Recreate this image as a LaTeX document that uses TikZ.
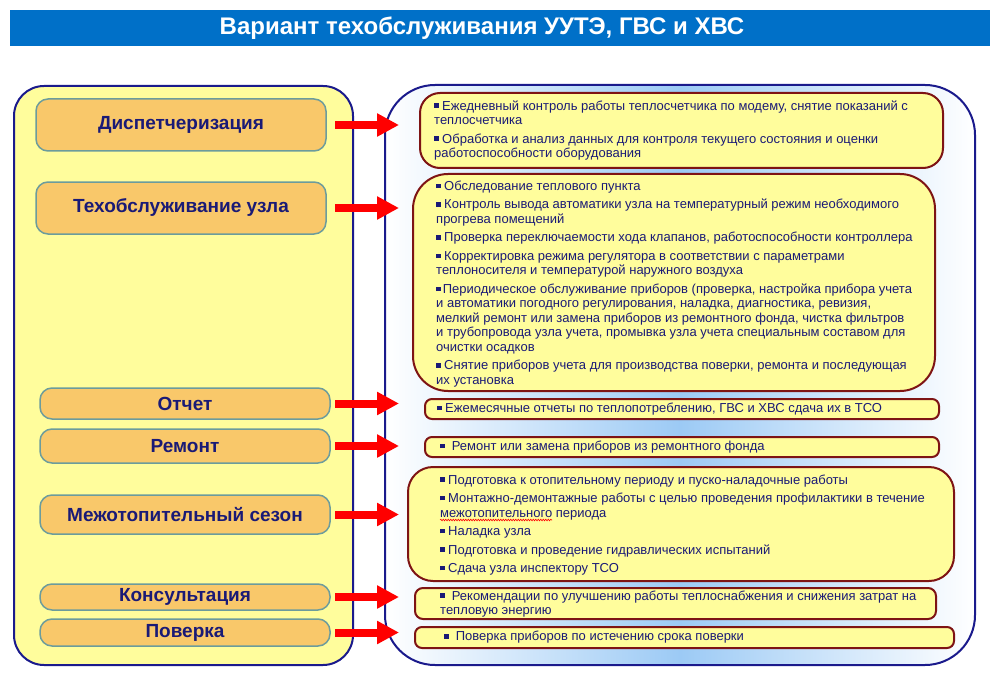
\documentclass[tikz,border=0pt]{standalone}
\usepackage{fontspec}
\setmainfont{Liberation Sans}
\usetikzlibrary{arrows.meta,calc,decorations.pathmorphing}
\usepackage{xcolor}
\definecolor{navy}{HTML}{1A1A8C}
\definecolor{ink}{HTML}{1A1A76}
\definecolor{bar}{HTML}{0070C8}
\definecolor{pale}{HTML}{FFFD9C}
\definecolor{peach}{HTML}{F9C86A}
\definecolor{tealgray}{HTML}{6C9C9C}
\definecolor{wine}{HTML}{7E1414}
\definecolor{glow}{HTML}{9CCAF5}
\newcommand{\sqb}{\rule[0.18em]{0.34em}{0.34em}}
\newlength{\wavelen}
\settowidth{\wavelen}{\fontsize{13}{14.5}\selectfont межотопительного}

\begin{document}
\begin{tikzpicture}[x=1pt,y=-1pt,
  lbox/.style={draw=tealgray,line width=1.5pt,fill=peach,rounded corners=12pt,minimum width=290pt,text=ink,font=\bfseries\fontsize{19}{22}\selectfont},
  rbox/.style={draw=wine,line width=2pt,fill=pale},
  rtext/.style={anchor=west,align=left,inner sep=0pt,text=ink,font=\fontsize{13}{14.5}\selectfont},
  redarrow/.style={red,line width=8pt,-{Triangle[length=22pt,width=22pt]}}]
\useasboundingbox (0,0) rectangle (1000,679);
% title bar
\node[fill=bar,minimum width=980pt,minimum height=36pt] (bar) at (500,28) {};
\node[text=white,font=\bfseries\fontsize{24}{28}\selectfont] (title) at ($(bar.center)+(-18,0)$) {Вариант техобслуживания УУТЭ, ГВС и ХВС};
% panels
\node[draw=navy,line width=2pt,fill=pale,rounded corners=30pt,minimum width=339pt,minimum height=579pt] (lp) at (183.5,375.5) {};
\node[draw=navy,line width=2pt,left color=white,right color=white,middle color=glow,rounded corners=50pt,minimum width=590pt,minimum height=580pt] (rp) at (680,375) {};
% kinds of work, left column
\foreach \n/\x/\y/\h/\t in {1/181/125/52/Диспетчеризация,2/181/208/52/Техобслуживание узла,3/185/403.5/31/Отчет,4/185/446/34/Ремонт,5/185/514.5/39/Межотопительный сезон,6/185/597/26/Консультация,7/185/632.5/27/Поверка}
  \node[lbox,minimum height=\h pt] (l\n) at (\x,\y) {\t};
% what each one includes, right column
\node[rbox,rounded corners=20pt,minimum width=523pt,minimum height=75pt] (r1) at (681.5,130.5) {};
\node[rtext] (t1) at ($(r1.west)+(15,0)$) {\sqb\ Ежедневный контроль работы теплосчетчика по модему, снятие показаний с\\
теплосчетчика\\[4pt]
\sqb\ Обработка и анализ данных для контроля текущего состояния и оценки\\
работоспособности оборудования};
\node[rbox,rounded corners=35pt,minimum width=522pt,minimum height=217pt] (r2) at (674,282.5) {};
\node[rtext] (t2) at ($(r2.west)+(24,1.5)$) {\sqb\ Обследование теплового пункта\\[4pt]
\sqb\ Контроль вывода автоматики узла на температурный режим необходимого\\
прогрева помещений\\[4pt]
\sqb\ Проверка переключаемости хода клапанов, работоспособности контроллера\\[4pt]
\sqb\ Корректировка режима регулятора в соответствии с параметрами\\
теплоносителя и температурой наружного воздуха\\[4pt]
\sqb\,Периодическое обслуживание приборов (проверка, настройка прибора учета\\
и автоматики погодного регулирования, наладка, диагностика, ревизия,\\
мелкий ремонт или замена приборов из ремонтного фонда, чистка фильтров\\
и трубопровода узла учета, промывка узла учета специальным составом для\\
очистки осадков\\[4pt]
\sqb\ Снятие приборов учета для производства поверки, ремонта и последующая\\
их установка};
\node[rbox,rounded corners=7pt,minimum width=514pt,minimum height=20pt] (r3) at (682,409) {};
\node[rtext] (t3) at ($(r3.west)+(13,0)$) {\sqb\ Ежемесячные отчеты по теплопотреблению, ГВС и ХВС сдача их в ТСО};
\node[rbox,rounded corners=7pt,minimum width=514pt,minimum height=20pt] (r4) at (682,447) {};
\node[rtext] (t4) at ($(r4.west)+(16,0)$) {\sqb\ \ Ремонт или замена приборов из ремонтного фонда};
\node[rbox,rounded corners=25pt,minimum width=546pt,minimum height=114pt] (r5) at (681,524) {};
\node[rtext] (t5) at ($(r5.west)+(33,1)$) {\sqb\ Подготовка к отопительному периоду и пуско-наладочные работы\\[4pt]
\sqb\ Монтажно-демонтажные работы с целью проведения профилактики в течение\\
межотопительного периода\\[4pt]
\sqb\ Наладка узла\\[4pt]
\sqb\ Подготовка и проведение гидравлических испытаний\\[4pt]
\sqb\ Сдача узла инспектору ТСО};
\draw[red,line width=0.6pt,decorate,decoration={snake,amplitude=0.8pt,segment length=2.5pt}] ($(r5.west)+(33,-4)$) -- ++(\wavelen,0);
\node[rbox,rounded corners=8pt,minimum width=521pt,minimum height=31pt] (r6) at (675.5,603.5) {};
\node[rtext] (t6) at ($(r6.west)+(26,0.5)$) {\sqb\ \ Рекомендации по улучшению работы теплоснабжения и снижения затрат на\\
тепловую энергию};
\node[rbox,rounded corners=7pt,minimum width=539pt,minimum height=21pt] (r7) at (684.5,637.5) {};
\node[rtext] (t7) at ($(r7.west)+(30,0)$) {\sqb\ \ Поверка приборов по истечению срока поверки};
% arrows
\foreach \n in {1,...,7}
  \draw[redarrow] ($(l\n.east -| lp.east)+(-19,0)$) -- ($(l\n.east -| rp.west)+(15,0)$);
\end{tikzpicture}
\end{document}
